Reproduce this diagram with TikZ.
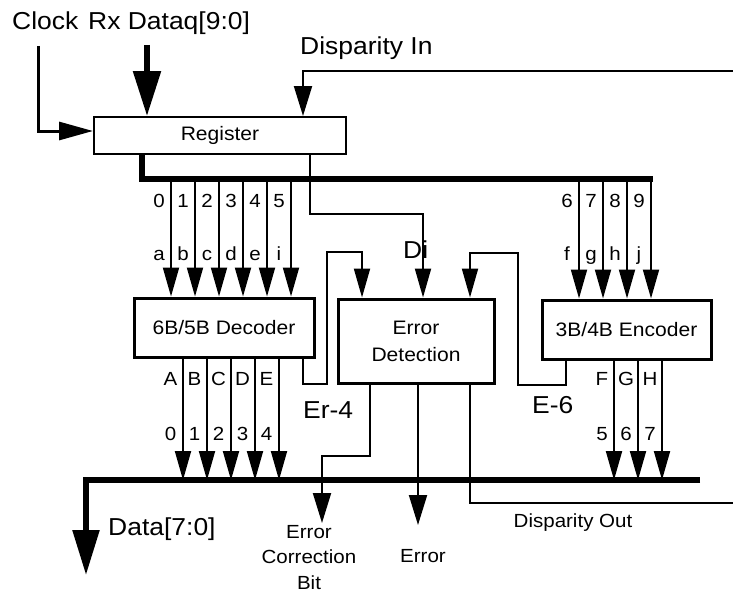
\documentclass[tikz,border=0pt]{standalone}
\usepackage{fontspec}
\setmainfont[FakeStretch=1.08]{Liberation Sans}
\usetikzlibrary{arrows.meta,calc}
\begin{document}
\begin{tikzpicture}[x=1pt,y=-1pt,
  thin/.style={line width=2pt},
  busline/.style={line width=5.5pt},
  blk/.style={draw,line width=3pt,inner sep=0pt,font=\fontsize{19.5}{27}\selectfont,align=center},
  big/.style={font=\fontsize{24.5}{30}\selectfont,inner sep=0pt,anchor=base west},
  bit/.style={font=\fontsize{19}{22}\selectfont,anchor=base,inner sep=0pt},
  sml/.style={font=\fontsize{19}{25.5}\selectfont,align=center,inner sep=0pt},
  tipS/.style={-{Triangle[length=29pt,width=16pt]}},
  tipM/.style={-{Triangle[length=30pt,width=18pt]}},
  tipL/.style={-{Triangle[length=45pt,width=27pt]}},
]
\useasboundingbox (0,0) rectangle (733,594);

% blocks
\node[blk, line width=2pt, minimum width=252pt, minimum height=37pt] (reg) at (220,135.5) {Register};
\node[blk, minimum width=180pt, minimum height=59pt] (dec) at (224,327.5) {6B/5B Decoder};
\node[blk, minimum width=156pt, minimum height=84pt] (err) at (416,341) {Error\\Detection};
\node[blk, minimum width=169pt, minimum height=59pt] (enc) at (626.5,329.5) {3B/4B Encoder};

% big labels
\node[big] (clk) at (12,30) {Clock};
\node[big] (rx) at (88,30) {Rx Dataq[9:0]};
\node[big] (dispin) at (300,55) {Disparity In};
\node[big] (di) at (403,258) {Di};
\node[big] (er4) at (303,418) {Er-4};
\node[big] (e6) at (532,413) {E-6};
\node[big] (data) at (108,535) {Data[7:0]};

% small labels
\node[sml, anchor=north] (ecb) at (309,525) {Error\\Correction\\Bit};
\node[sml, anchor=base] (errl) at (423,562) {Error};
\node[sml, anchor=base] (doutl) at (573,527) {Disparity Out};

% free ends
\coordinate (clkin) at (38,46);
\coordinate (rxin) at (147,45);
\coordinate (dinr) at (733,71);
\coordinate (tbus) at (653,179);
\coordinate (bbus) at (700,480);
\coordinate (dtip) at (86,575);
\coordinate (ecbtip) at (322,523);
\coordinate (errtip) at (418,525);
\coordinate (doutr) at (733,503);

% inputs to register
\draw[line width=3pt, -{Triangle[length=34pt,width=18pt]}] (clkin) |- ([yshift=4.5pt]reg.west);
\draw[busline, tipL] (rxin) -- (rxin |- reg.north);
\draw[thin, tipM] (dinr) -| ([xshift=83pt]reg.north);

% top bus
\draw[busline] ([xshift=-78pt]reg.south) |- (tbus);

% decoder inputs
\foreach \x/\n/\l [count=\i] in {171/0/a,195/1/b,219/2/c,243/3/d,267/4/e,291/5/i} {
  \draw[thin,tipS] (\x,179) -- (\x,0 |- dec.north);
  \node[bit] (dn\i) at (\x-12,207) {\n};
  \node[bit] (dl\i) at (\x-12,260) {\l};
}
% encoder inputs
\foreach \x/\n/\l [count=\i] in {579/6/f,603/7/g,627/8/h,651/9/j} {
  \draw[thin,tipS] (\x,179) -- (\x,0 |- enc.north);
  \node[bit] (en\i) at (\x-12,207) {\n};
  \node[bit] (el\i) at (\x-12,260) {\l};
}

% Di
\draw[thin,tipS] ([xshift=90pt]reg.south) -- ++(0,59) -| ([xshift=7pt]err.north);
% Er-4
\draw[thin,tipS] ([xshift=79pt]dec.south) -- ++(0,25) -- ++(24,0) -- ++(0,-132) -| ([xshift=-54pt]err.north);
% E-6
\draw[thin,tipS] ([xshift=-60.5pt]enc.south) -- ++(0,24) -- ++(-48,0) -- ++(0,-132) -| ([xshift=54pt]err.north);

% decoder outputs
\foreach \x/\u/\n [count=\i] in {183/A/0,207/B/1,231/C/2,255/D/3,279/E/4} {
  \draw[thin,tipS] (\x,0 |- dec.south) -- (\x,480);
  \node[bit] (du\i) at (\x-12.5,385) {\u};
  \node[bit] (dd\i) at (\x-12.5,440) {\n};
}
% encoder outputs
\foreach \x/\u/\n [count=\i] in {614/F/5,638/G/6,662/H/7} {
  \draw[thin,tipS] (\x,0 |- enc.south) -- (\x,480);
  \node[bit] (eu\i) at (\x-12,385) {\u};
  \node[bit] (ed\i) at (\x-12,440) {\n};
}

% bottom bus
\draw[busline,-{Triangle[length=45pt,width=26pt]}] (bbus) -| (dtip);

% error detection outputs
\draw[thin,tipM] ([xshift=-46pt]err.south) -- ++(0,71) -| (ecbtip);
\draw[thin,tipM] ([xshift=2pt]err.south) -- (errtip);
\draw[thin] ([xshift=54pt]err.south) |- (doutr);
\end{tikzpicture}
\end{document}
